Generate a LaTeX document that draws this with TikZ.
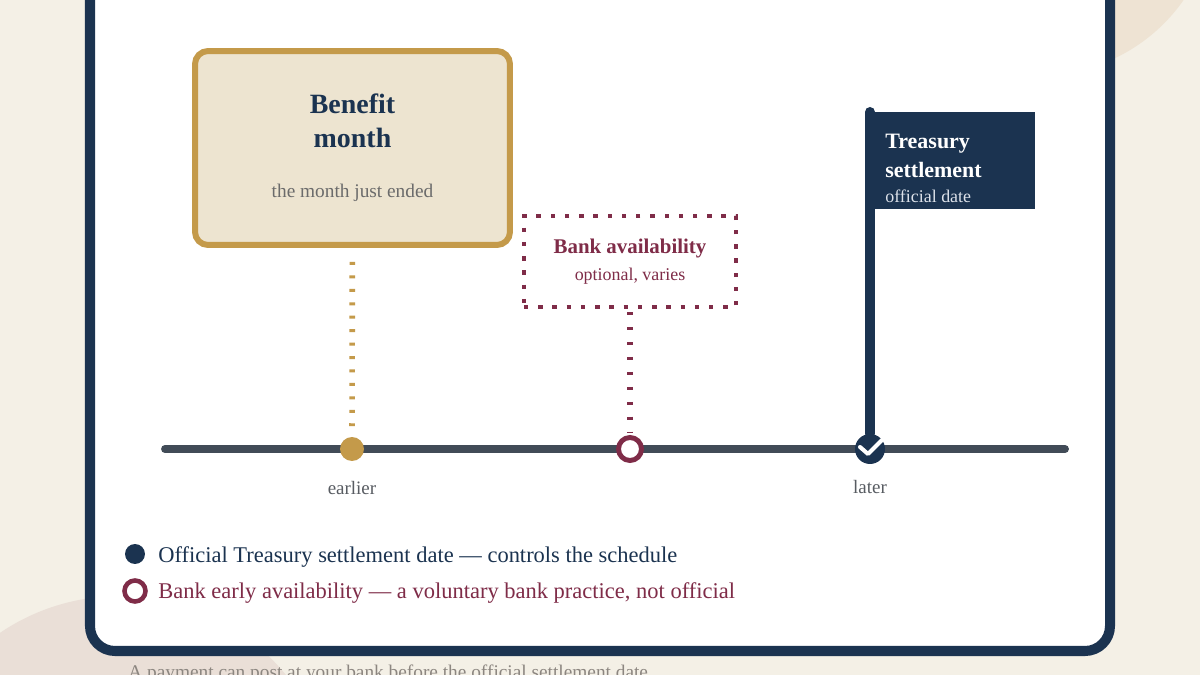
\documentclass[tikz,border=0pt]{standalone}
\usepackage{fontspec}
\setmainfont{Liberation Serif}
\usetikzlibrary{positioning}

\definecolor{navy}{HTML}{1B3350}
\definecolor{gold}{HTML}{C49A4A}
\definecolor{goldfill}{HTML}{EDE4D0}
\definecolor{wine}{HTML}{7F2C48}
\definecolor{axisgray}{HTML}{414B57}
\definecolor{textgray}{HTML}{6B6B6B}
\definecolor{labelgray}{HTML}{585C62}
\definecolor{captiongray}{HTML}{8C8680}
\definecolor{paper}{HTML}{F4F0E6}
\definecolor{blobtan}{HTML}{EEE3D3}
\definecolor{blobrose}{HTML}{EADFD7}
\definecolor{flagsub}{HTML}{DDE2EA}

\begin{document}
\begin{tikzpicture}[x=0.02cm, y=-0.02cm, node distance=0.3cm, >=stealth,
    card/.style={draw=navy, line width=5.7pt, fill=white, rounded corners=0.5cm},
    monthbox/.style={draw=gold, line width=3.4pt, fill=goldfill, rounded corners=0.26cm,
        minimum width=6.3cm, minimum height=3.88cm, align=center, text=navy,
        font=\fontsize{15.9}{19.3}\selectfont\bfseries},
    bankbox/.style={draw=wine, line width=2.5pt, dash pattern=on 2.5pt off 5.6pt,
        fill=white, minimum width=4.24cm, minimum height=1.82cm, align=center, text=wine,
        font=\fontsize{11.9}{15.3}\selectfont\bfseries},
    flagbox/.style={fill=navy, inner sep=0pt, minimum width=3.3cm, minimum height=1.94cm},
    flagtext/.style={text=white, inner sep=0pt, align=left,
        font=\fontsize{12.5}{16.4}\selectfont\bfseries},
    golddots/.style={gold, line width=3.2pt, dash pattern=on 1.7pt off 5.95pt},
    winedots/.style={wine, line width=3.2pt, dash pattern=on 1.7pt off 6.8pt},
    axis/.style={axisgray, line width=4.5pt, line cap=round},
    pole/.style={navy, line width=5.7pt, line cap=round},
    golddot/.style={circle, fill=gold, inner sep=0pt, minimum size=0.48cm},
    winering/.style={circle, draw=wine, line width=2.8pt, fill=white, inner sep=0pt, minimum size=0.46cm},
    navydot/.style={circle, fill=navy, inner sep=0pt, minimum size=0.6cm},
    checkmark/.style={white, line width=2.3pt, line cap=round, line join=round},
    ticklabel/.style={text=labelgray, font=\fontsize{10.8}{13}\selectfont},
    legtext/.style={inner sep=0pt, font=\fontsize{12.8}{15}\selectfont},
    caption/.style={text=captiongray, inner sep=0pt, font=\fontsize{11}{13}\selectfont}]

    \useasboundingbox (0,0) rectangle (1200,675);

    % Page background and soft blobs
    \fill[paper] (0,0) rectangle (1200,675);
    \fill[blobtan] (1040,-100) circle (3.5cm);
    \fill[blobrose] (120,810) circle (4.28cm);

    % White card
    \draw[card] (90,-40) rectangle (1110,651);

    % Time axis
    \coordinate (tlstart) at (165,449);
    \coordinate (tlend) at (1065,449);
    \draw[axis] (tlstart) -- (tlend);

    % Points on the axis
    \node[golddot] (early) at (352,449) {};
    \node[winering] (bank) at (630,449) {};
    \node[navydot] (settle) at (870,449) {};

    % Benefit month box
    \node[monthbox] (benefit) at (352.5,148)
        {Benefit\\month\\[9pt]{\mdseries\color{textgray}\fontsize{11}{13}\selectfont the month just ended}};

    % Bank availability box (dotted)
    \node[bankbox] (bankbox) at (630,261.5)
        {Bank availability\\{\mdseries\fontsize{10.2}{12}\selectfont optional, varies}};

    % Treasury settlement flag
    \coordinate (poletop) at (870,112);
    \draw[pole] (poletop) -- (settle);
    \node[flagbox, anchor=north west] (flag) at (870,112) {};
    \node[flagtext, anchor=north west] (flagtext) at (885,133.5)
        {Treasury\\settlement\\[-1.7pt]{\mdseries\color{flagsub}\fontsize{10.2}{12}\selectfont official date}};

    % Dotted leaders down to the axis
    \draw[golddots, shorten <=0.28cm, shorten >=0.2cm] (benefit) -- (early);
    \draw[winedots, shorten <=0.06cm, shorten >=0.04cm] (bankbox) -- (bank);

    % Check mark on the official date
    \draw[checkmark] ([shift={(-10,-2)}]settle.center) -- ([shift={(-2,5)}]settle.center)
        -- ([shift={(12,-9)}]settle.center);

    % Axis labels
    \node[ticklabel, below=0.28cm of early] (earlylabel) {earlier};
    \node[ticklabel, below=0.2cm of settle] (latelabel) {later};

    % Legend
    \node[circle, fill=navy, inner sep=0pt, minimum size=0.4cm] (legofficial) at (135,554) {};
    \node[circle, draw=wine, line width=2.6pt, inner sep=0pt, minimum size=0.42cm] (legbank) at (135,591) {};
    \node[legtext, text=navy, anchor=base west] (legofficialtext) at (158,562)
        {Official Treasury settlement date — controls the schedule};
    \node[legtext, text=wine, anchor=base west] (legbanktext) at (158,598)
        {Bank early availability — a voluntary bank practice, not official};

    % Caption under the card
    \node[caption, anchor=base west] (caption) at (128,678)
        {A payment can post at your bank before the official settlement date};

\end{tikzpicture}
\end{document}
